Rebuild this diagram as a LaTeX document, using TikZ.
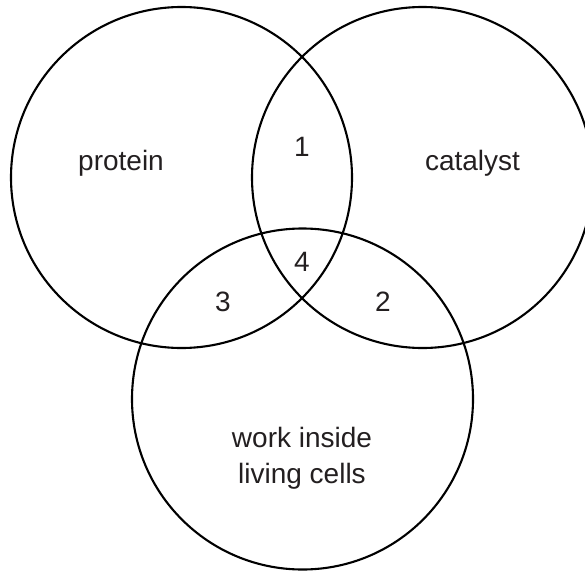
\documentclass[tikz,border=0pt]{standalone}
\usepackage{fontspec}
\setmainfont{Liberation Sans}
\definecolor{txt}{HTML}{231F20}
\begin{document}
\begin{tikzpicture}[x=1pt,y=-1pt,
  ring/.style={draw=black,line width=2.1pt,circle,inner sep=0pt,minimum size=341pt},
  lbl/.style={font=\fontsize{28}{35.7}\selectfont,text=txt,anchor=base,inner sep=0pt,align=center}]
\clip (0,0) rectangle (585,572);
\node[ring] (cP) at (181.5,177.5) {};
\node[ring] (cC) at (422.5,177.5) {};
\node[ring] (cW) at (302.5,399) {};
\node[lbl] (tP) at (121,170.7) {protein};
\node[lbl] (tC) at (472.5,170.7) {catalyst};
\node[lbl] (t1) at (302,156.7) {1};
\node[lbl] (t4) at (302,271.7) {4};
\node[lbl] (t3) at (223,311.7) {3};
\node[lbl] (t2) at (383,311.7) {2};
\node[lbl] (tW1) at (302,447.3) {work inside};
\node[lbl] (tW2) at (302,483) {living cells};
\end{tikzpicture}
\end{document}
